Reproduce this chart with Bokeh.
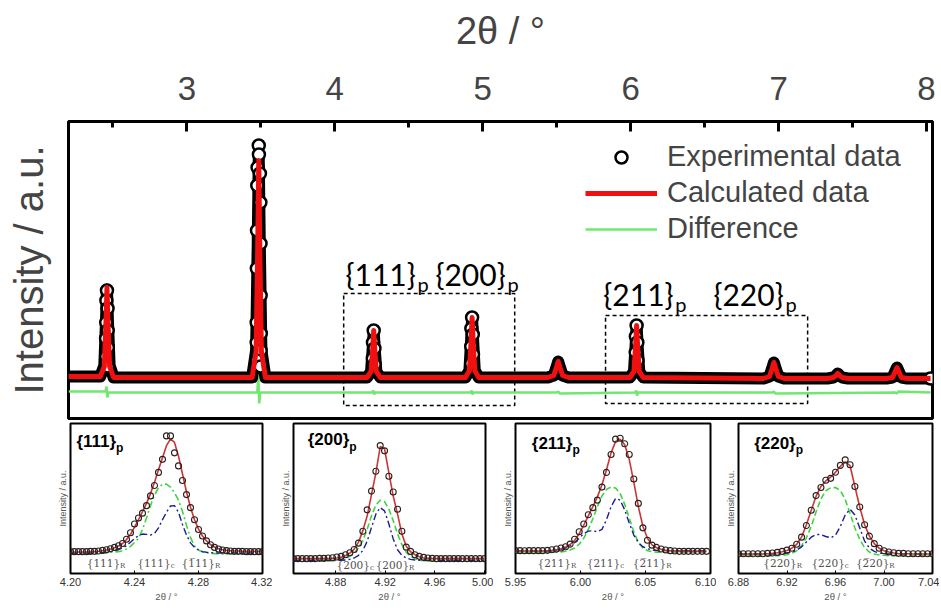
from bokeh.plotting import figure
from bokeh.models import Range1d, FixedTicker, NumeralTickFormatter, Legend, LegendItem, Spacer
from bokeh.layouts import column, row
from bokeh.embed import file_html
from bokeh.resources import INLINE
from bokeh.core.properties import value

# ---------------- main pattern (2theta in degrees, intensity in a.u.) ----------------
main_prof_x = [2.2, 2.415, 2.442, 2.453, 2.46, 2.467, 2.478, 2.505,
               3.441, 3.468, 3.479, 3.486, 3.493, 3.504, 3.531,
               4.218, 4.245, 4.256, 4.263, 4.27, 4.281, 4.308,
               4.883, 4.91, 4.921, 4.928, 4.935, 4.946, 4.973,
               5.44, 5.48, 5.498, 5.51, 5.522, 5.54, 5.58,
               5.995, 6.022, 6.033, 6.04, 6.047, 6.058, 6.085,
               6.898, 6.938, 6.956, 6.968, 6.98, 6.998, 7.038,
               7.33, 7.37, 7.388, 7.4, 7.412, 7.43, 7.47,
               7.73, 7.77, 7.788, 7.8, 7.812, 7.83, 7.87, 8.027]
main_calc_y = [42, 42, 52, 95, 131, 95, 52, 41,
               41, 67, 171, 258, 171, 67, 41,
               41, 47, 69, 88, 69, 47, 41,
               41, 48, 77, 101, 77, 48, 41,
               41, 43, 51, 57, 51, 43, 41,
               41, 47, 72, 93, 72, 47, 41,
               40, 42, 50, 56, 50, 42, 40,
               40, 41, 43, 45, 43, 41, 40,
               40, 41, 47, 51, 47, 41, 40, 40]
main_exp_y = [42, 42, 53, 96, 129, 96, 53, 41,
              41, 68, 175, 262, 175, 68, 41,
              41, 47, 70, 87, 70, 47, 41,
              41, 48, 78, 100, 78, 48, 41,
              41, 43, 51, 57, 51, 43, 41,
              41, 47, 73, 93, 73, 47, 41,
              40, 42, 50, 56, 50, 42, 40,
              40, 41, 43, 45, 43, 41, 40,
              40, 41, 47, 51, 47, 41, 40, 40]
main_pts_x = [2.46, 2.456, 2.464, 2.455, 2.465, 2.454, 2.466, 2.455, 2.465,
              3.486, 3.487, 3.478, 3.494, 3.476, 3.497, 3.474, 3.498, 3.473, 3.499,
              3.472, 3.5, 3.472, 3.499, 3.474, 3.498,
              4.263, 4.258, 4.268, 4.257, 4.269,
              4.928, 4.923, 4.933, 4.922, 4.934, 4.922,
              6.04, 6.035, 6.045, 6.034, 6.046,
              8.027]
main_pts_y = [128, 118, 110, 96, 88, 80, 71, 62, 52,
              273, 264, 251, 245, 233, 216, 188, 175, 150, 123,
              96, 85, 76, 68, 58, 52,
              88, 76, 70, 60, 54,
              101, 90, 84, 72, 64, 55,
              93, 82, 76, 66, 58,
              40]
main_diff_x = [2.2, 2.45, 2.457, 2.463, 2.47, 3.476, 3.483, 3.489, 3.496,
               4.253, 4.26, 4.266, 4.273, 4.918, 4.925, 4.931, 4.938,
               5.5, 5.51, 5.52, 6.03, 6.037, 6.043, 6.05,
               6.958, 6.968, 6.978, 7.79, 7.8, 7.81, 8.027]
main_diff_y = [27, 27, 32, 21, 26, 26, 43, 15, 26,
               26, 28, 24, 26, 26, 28, 24, 26,
               26, 27, 25, 26, 28, 23, 26,
               26, 27, 25, 26, 25, 27, 26]
main_ticks = [3, 4, 5, 6, 7, 8]
main_minor = [2.5, 3.5, 4.5, 5.5, 6.5, 7.5]
peak_labels = ["{111}", "{200}", "{211}", "{220}"]
peak_sub = ["p", "p", "p", "p"]
box_left = [4.06, 5.83]
box_right = [5.216, 7.196]
box_bottom = [13, 15]
box_top = [125, 103]

# ---------------- insets ----------------
in1_x = [4.2, 4.2025, 4.205, 4.2075, 4.21, 4.2125, 4.215, 4.2175, 4.22, 4.2225,
         4.225, 4.2275, 4.23, 4.2325, 4.235, 4.2375, 4.24, 4.2425, 4.245, 4.2475,
         4.25, 4.2525, 4.255, 4.2575, 4.26, 4.2625, 4.265, 4.2675, 4.27, 4.2725,
         4.275, 4.2775, 4.28, 4.2825, 4.285, 4.2875, 4.29, 4.2925, 4.295, 4.2975,
         4.3, 4.3025, 4.305, 4.3075, 4.31, 4.3125, 4.315, 4.3175, 4.32]
in1_exp = [67, 67, 67, 67, 67, 68, 68, 69, 71, 73, 76, 80, 85, 92, 105, 125, 152, 170, 185, 208,
           238, 270, 310, 350, 422, 422, 370, 330, 285, 242, 202, 165, 135, 115, 100, 88, 80, 75, 72, 70,
           69, 68, 68, 68, 67, 67, 67, 67, 67]
in1_calc = [66, 66, 66, 66, 66, 67, 67, 68, 70, 72, 75, 79, 84, 92, 104, 120, 142, 165, 190, 215,
            245, 280, 318, 355, 392, 413, 402, 360, 305, 250, 203, 165, 136, 115, 100, 89, 81, 76, 73, 71,
            70, 69, 69, 68, 68, 68, 68, 68, 68]
in1_cub = [60, 60, 60, 60, 60, 60, 61, 61, 62, 63, 65, 66, 67, 70, 75, 83, 95, 108, 135, 170,
           208, 240, 263, 274, 274, 265, 248, 225, 190, 148, 110, 85, 72, 66, 64, 62, 61, 61, 60, 60,
           60, 60, 60, 60, 60, 60, 60, 60, 60]
in1_rho = [63, 63, 63, 63, 63, 63, 63, 63, 64, 65, 67, 70, 73, 79, 85, 96, 107, 116, 121, 120,
           118, 123, 140, 165, 188, 207, 208, 188, 150, 118, 94, 80, 72, 67, 65, 64, 63, 63, 63, 63,
           63, 63, 63, 63, 63, 63, 63, 63, 63]

in2_x = [4.846, 4.8495, 4.853, 4.8565, 4.86, 4.8635, 4.867, 4.8705, 4.874, 4.8775,
         4.881, 4.8845, 4.888, 4.8915, 4.895, 4.8985, 4.902, 4.9055, 4.909, 4.9125,
         4.916, 4.9195, 4.923, 4.9265, 4.93, 4.9335, 4.937, 4.9405, 4.944, 4.9475,
         4.951, 4.9545, 4.958, 4.9615, 4.965, 4.9685, 4.972, 4.9755, 4.979, 4.9825,
         4.986, 4.9895, 4.993, 4.9965, 5.0]
in2_exp = [45, 45, 45, 45, 45, 45, 46, 46, 47, 48, 50, 52, 57, 63, 73, 92, 128, 193, 250, 310,
           388, 372, 295, 247, 195, 128, 80, 67, 57, 52, 49, 47, 46, 45, 45, 45, 45, 45, 45, 45,
           45, 45, 45, 45, 45]
in2_calc = [45, 45, 45, 45, 45, 45, 45, 45, 45, 46, 47, 49, 54, 62, 74, 95, 130, 175, 240, 305,
            385, 378, 305, 235, 180, 120, 83, 66, 57, 51, 47, 46, 45, 45, 45, 45, 45, 45, 45, 45,
            45, 45, 45, 45, 45]
in2_cub = [37, 37, 37, 37, 37, 37, 37, 38, 38, 39, 40, 42, 46, 52, 62, 78, 100, 135, 175, 208,
           222, 218, 195, 160, 120, 88, 65, 52, 45, 41, 39, 38, 37, 37, 37, 37, 37, 37, 37, 37,
           37, 37, 37, 37, 37]
in2_rho = [40, 40, 40, 40, 40, 40, 40, 40, 40, 40, 40, 40, 41, 43, 47, 55, 70, 98, 140, 180,
           200, 190, 150, 105, 72, 55, 47, 43, 41, 40, 40, 40, 40, 40, 40, 40, 40, 40, 40, 40,
           40, 40, 40, 40, 40]

in3_x = [5.95, 5.9535, 5.957, 5.9605, 5.964, 5.9675, 5.971, 5.9745, 5.978, 5.9815,
         5.985, 5.9885, 5.992, 5.9955, 5.999, 6.0025, 6.006, 6.0095, 6.013, 6.0165,
         6.02, 6.0235, 6.027, 6.0305, 6.034, 6.0375, 6.041, 6.0445, 6.048, 6.0515,
         6.055, 6.0585, 6.062, 6.0655, 6.069, 6.0725, 6.076, 6.0795, 6.083, 6.0865,
         6.09, 6.0935, 6.097]
in3_exp = [70, 70, 70, 70, 70, 70, 70, 71, 73, 75, 78, 82, 90, 105, 128, 152, 180, 202, 225, 265,
           310, 365, 412, 415, 398, 365, 290, 215, 140, 102, 87, 80, 75, 72, 70, 69, 68, 68, 68, 68,
           68, 68, 68]
in3_calc = [69, 69, 69, 69, 69, 69, 69, 70, 71, 73, 76, 81, 89, 102, 122, 148, 177, 205, 235, 272,
            318, 370, 405, 412, 395, 350, 280, 205, 145, 108, 88, 79, 74, 71, 70, 69, 68, 68, 68, 68,
            68, 68, 68]
in3_cub = [65, 65, 65, 65, 65, 65, 65, 65, 65, 65, 66, 68, 72, 78, 90, 108, 135, 168, 205, 238,
           258, 265, 262, 245, 212, 170, 128, 95, 78, 70, 67, 65, 65, 65, 65, 65, 65, 65, 65, 65,
           65, 65, 65]
in3_rho = [69, 69, 69, 69, 69, 69, 69, 69, 69, 71, 74, 78, 85, 95, 108, 122, 130, 131, 128, 135,
           165, 205, 230, 225, 195, 155, 118, 95, 82, 76, 72, 70, 70, 70, 70, 70, 70, 70, 70, 70,
           70, 70, 70]

in4_x = [6.88, 6.884, 6.888, 6.892, 6.896, 6.9, 6.904, 6.908, 6.912, 6.916,
         6.92, 6.924, 6.928, 6.932, 6.936, 6.94, 6.944, 6.948, 6.952, 6.956,
         6.96, 6.964, 6.968, 6.972, 6.976, 6.98, 6.984, 6.988, 6.992, 6.996,
         7.0, 7.004, 7.008, 7.012, 7.016, 7.02, 7.024, 7.028, 7.032, 7.036, 7.04]
in4_exp = [61, 61, 61, 61, 61, 61, 62, 63, 65, 68, 72, 78, 90, 112, 148, 195, 240, 265, 287, 293,
           312, 333, 350, 335, 268, 205, 150, 115, 92, 78, 70, 66, 64, 62, 62, 61, 61, 61, 61, 61, 61]
in4_calc = [60, 60, 60, 60, 60, 60, 61, 62, 64, 67, 71, 78, 90, 112, 150, 195, 238, 268, 285, 297,
            312, 330, 344, 332, 268, 205, 150, 115, 92, 78, 70, 66, 63, 61, 61, 61, 60, 60, 60, 60, 60]
in4_cub = [55, 55, 55, 55, 55, 55, 55, 55, 55, 56, 58, 62, 70, 85, 110, 145, 190, 230, 255, 264,
           265, 255, 228, 185, 140, 105, 80, 66, 60, 57, 56, 55, 55, 55, 55, 55, 55, 55, 55, 55, 55]
in4_rho = [60, 60, 60, 60, 60, 60, 60, 60, 60, 61, 63, 66, 72, 82, 97, 112, 120, 120, 114, 110,
           118, 145, 180, 198, 180, 140, 100, 78, 68, 63, 61, 60, 60, 60, 60, 60, 60, 60, 60, 60, 60]

in_ticks = [[4.20, 4.24, 4.28, 4.32], [4.88, 4.92, 4.96, 5.00],
            [5.95, 6.00, 6.05, 6.10], [6.88, 6.92, 6.96, 7.00, 7.04]]
in_titles = ["{111}", "{200}", "{211}", "{220}"]
in_refl = [["{111}", "{111}", "{1\u030511}"],
           ["{200}", "{200}"],
           ["{211}", "{211}", "{2\u030511}"],
           ["{220}", "{220}", "{2\u030520}"]]
in_refl_sub = [["R", "c", "R"], ["c", "R"], ["R", "c", "R"], ["R", "c", "R"]]

SANS = value("Liberation Sans")

# ================= main figure =================
p = figure(width=935, height=420, x_range=Range1d(2.2, 8.04), y_range=Range1d(0, 297),
           output_backend="svg", toolbar_location=None, x_axis_location="above",
           min_border_left=68, min_border_right=3, min_border_top=121, min_border_bottom=2)
p.grid.visible = False
p.outline_line_color = "black"
p.outline_line_width = 3
p.background_fill_color = "white"

xa = p.xaxis[0]
xa.ticker = FixedTicker(ticks=main_ticks, minor_ticks=main_minor)
xa.major_tick_in = 10
xa.major_tick_out = 0
xa.minor_tick_in = 6
xa.minor_tick_out = 0
xa.major_tick_line_width = 3
xa.minor_tick_line_width = 3
xa.axis_line_width = 3
xa.major_label_text_font = "Liberation Sans"
xa.major_label_text_font_size = "33px"
xa.major_label_standoff = 22
xa.axis_label = "2θ / °"
xa.axis_label_text_font = "Liberation Sans"
xa.axis_label_text_font_style = "normal"
xa.axis_label_text_font_size = "38px"
xa.axis_label_standoff = 22

ya = p.yaxis[0]
ya.ticker = FixedTicker(ticks=[])
ya.major_label_text_font_size = "0px"
ya.axis_line_color = None
ya.major_tick_line_color = None
ya.minor_tick_line_color = None
ya.axis_label = "Intensity / a.u."
ya.axis_label_text_font = "Liberation Sans"
ya.axis_label_text_font_style = "normal"
ya.axis_label_text_font_size = "40px"
ya.axis_label_standoff = 18

p.quad(left=box_left, right=box_right, bottom=box_bottom, top=box_top,
       fill_color=None, line_color="black", line_dash="4 3", line_width=1.5)
diff_r = p.line(main_diff_x, main_diff_y, line_color="#70e870", line_width=2.5)
p.line(main_prof_x, main_exp_y, line_color="black", line_width=12, line_join="round", line_cap="round")
circ_r = p.scatter(main_pts_x, main_pts_y, marker="circle", size=12, line_color="black",
                   line_width=2.5, fill_color="white")
calc_r = p.line(main_prof_x, main_calc_y, line_color="#f01010", line_width=5, line_join="round")

# peak-family labels with subscripts
lab_x = [4.547, 5.155, 6.29, 7.034]
lab_y = [145, 145, 125, 125]
p.text(x=lab_x, y=lab_y, text=peak_labels, text_font=value("Lato"), text_font_size="30px",
       text_align="right", text_baseline="alphabetic", text_color="black")
p.text(x=[v + 0.012 for v in lab_x], y=[v - 10 for v in lab_y], text=peak_sub,
       text_font=value("Lato"), text_font_size="20px", text_align="left",
       text_baseline="alphabetic", text_color="black")

legend = Legend(items=[LegendItem(label="Experimental data", renderers=[circ_r]),
                       LegendItem(label="Calculated data", renderers=[calc_r]),
                       LegendItem(label="Difference", renderers=[diff_r])],
                location=(517, 173), orientation="vertical")
legend.label_text_font = "Liberation Sans"
legend.label_text_font_size = "29px"
legend.glyph_width = 72
legend.glyph_height = 30
legend.label_height = 30
legend.label_standoff = 10
legend.spacing = 3
legend.padding = 0
legend.margin = 0
legend.border_line_color = None
legend.background_fill_alpha = 0
p.add_layout(legend)


# ================= insets =================
def make_inset(k, xs, exp, calc, cub, rho, x0, x1, ymax, width, bl, br,
               title_j, title_y, refl_j, refl_y, green_dash):
    f = figure(width=width, height=184, x_range=Range1d(x0, x1), y_range=Range1d(0, ymax),
               output_backend="svg", toolbar_location=None,
               min_border_left=bl, min_border_right=br, min_border_top=3, min_border_bottom=27)
    f.grid.visible = False
    f.outline_line_color = "black"
    f.outline_line_width = 2
    ax = f.xaxis[0]
    ax.ticker = FixedTicker(ticks=in_ticks[k])
    ax.formatter = NumeralTickFormatter(format="0.00")
    ax.major_tick_in = 3
    ax.major_tick_out = 0
    ax.minor_tick_line_color = None
    ax.axis_line_color = None
    ax.major_label_text_font = "Liberation Sans"
    ax.major_label_text_font_size = "11px"
    ax.major_label_text_color = "#333333"
    ax.major_label_standoff = 4
    ax.axis_label = "2θ / °"
    ax.axis_label_text_font = "Liberation Sans"
    ax.axis_label_text_font_style = "normal"
    ax.axis_label_text_font_size = "9.5px"
    ax.axis_label_text_color = "#555555"
    ax.axis_label_standoff = 2
    ay = f.yaxis[0]
    ay.ticker = FixedTicker(ticks=[])
    ay.major_label_text_font_size = "0px"
    ay.axis_line_color = None
    ay.major_tick_line_color = None
    ay.minor_tick_line_color = None
    ay.axis_label = "Intensity / a.u."
    ay.axis_label_text_font = "Liberation Sans"
    ay.axis_label_text_font_style = "normal"
    ay.axis_label_text_font_size = "9px"
    ay.axis_label_text_color = "#555555"
    ay.axis_label_standoff = 3

    f.line(xs, cub, line_color="#3fd43f", line_width=1.6, line_dash=green_dash)
    f.line(xs, rho, line_color="#1c1c9a", line_width=1.4, line_dash="7 3 2 3")
    f.line(xs, calc, line_color="#cc3535", line_width=1.6)
    f.scatter(xs, exp, marker="circle", size=6, line_color="#2a2020", line_width=1.1,
              fill_color=None)

    f.text(x=[title_j], y=[title_y], text=[in_titles[k]], text_font=SANS,
           text_font_style="bold", text_font_size="17px", text_align="right",
           text_baseline="middle", text_color="black")
    f.text(x=[title_j], y=[title_y - 20], text=["p"], text_font=SANS,
           text_font_style="bold", text_font_size="12px", text_align="left",
           text_baseline="middle", text_color="black")
    f.text(x=refl_j, y=[refl_y] * len(refl_j), text=in_refl[k], text_font=value("DejaVu Serif"),
           text_font_size="10.5px", text_align="right", text_baseline="middle",
           text_color="#505050")
    f.text(x=refl_j, y=[refl_y - 9] * len(refl_j), text=in_refl_sub[k],
           text_font=value("DejaVu Serif"), text_font_size="7px", text_align="left",
           text_baseline="middle", text_color="#505050")
    return f


f1 = make_inset(0, in1_x, in1_exp, in1_calc, in1_cub, in1_rho, 4.20, 4.32, 460, 222, 20, 10,
                4.2285, 405, [4.231, 4.2626, 4.2903], 32, "7 3 2 3")
f2 = make_inset(1, in2_x, in2_exp, in2_calc, in2_cub, in2_rho, 4.846, 5.001, 455, 221, 21, 8,
                4.891, 405, [4.9077, 4.9393], 27, "6 3")
f3 = make_inset(2, in3_x, in3_exp, in3_calc, in3_cub, in3_rho, 5.95, 6.10, 460, 223, 22, 6,
                5.9938, 400, [5.9926, 6.0305, 6.0659], 32, "6 3")
f4 = make_inset(3, in4_x, in4_exp, in4_calc, in4_cub, in4_rho, 6.88, 7.04, 462, 223, 22, 7,
                6.9272, 400, [6.928, 6.9677, 7.0044], 32, "6 3")

layout = column(p, row(Spacer(width=50, height=184), f1, f2, f3, f4))
open("out.html", "w").write(file_html(layout, INLINE))
